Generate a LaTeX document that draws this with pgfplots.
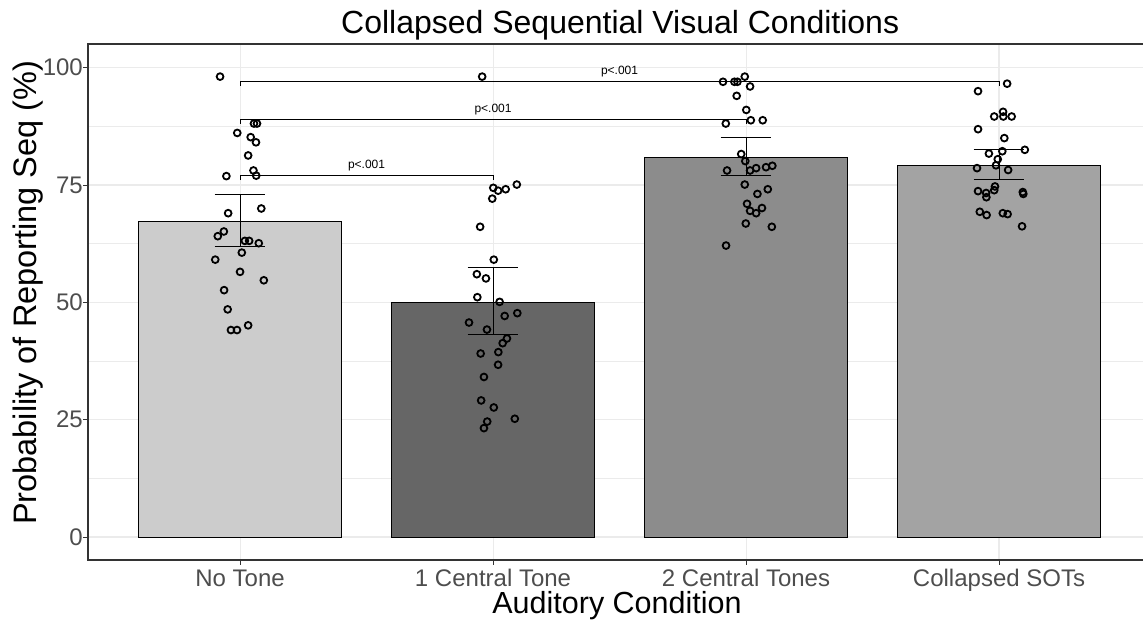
\documentclass[border=0pt]{standalone}
\usepackage{fontspec}
\setmainfont{Liberation Sans}
\usepackage{pgfplots}
\pgfplotsset{compat=1.18}
\definecolor{tickgray}{HTML}{4D4D4D}
\definecolor{gridgray}{HTML}{EBEBEB}
\definecolor{bordergray}{HTML}{333333}
\definecolor{barA}{HTML}{CCCCCC}
\definecolor{barB}{HTML}{666666}
\definecolor{barC}{HTML}{8C8C8C}
\definecolor{barD}{HTML}{A3A3A3}
\begin{document}
\begin{tikzpicture}
\useasboundingbox (0,0) rectangle (1143pt,619pt);
\begin{axis}[
  at={(88pt,59pt)}, anchor=south west,
  scale only axis, width=1058pt, height=516pt,
  xmin=-0.601, xmax=3.581, ymin=-4.9, ymax=105.05,
  xtick={0,1,2,3},
  xticklabels={No Tone, 1 Central Tone, 2 Central Tones, Collapsed SOTs},
  ytick={0,25,50,75,100},
  minor ytick={12.5,37.5,62.5,87.5},
  xmajorgrids, ymajorgrids, yminorgrids,
  major grid style={gridgray, line width=1.07pt},
  minor grid style={gridgray, line width=0.55pt},
  tick align=outside, tick pos=left,
  major tick length=4.5pt, minor tick length=0pt,
  tick style={bordergray, line width=1pt},
  axis line style={bordergray, line width=1.1pt},
  unbounded coords=jump,
  /pgf/number format/assume math mode=true,
  ticklabel style={font=\fontsize{24pt}{26pt}\selectfont, text=tickgray},
  xticklabel style={anchor=base, inner sep=0pt, yshift=-22pt},
  yticklabel style={anchor=east, inner sep=0pt, xshift=-0.5pt},
  title={Collapsed Sequential Visual Conditions},
  title style={at={(axis description cs:0.503,1)}, anchor=base, inner sep=0pt, yshift=4pt,
    font=\fontsize{32pt}{34pt}\selectfont},
  xlabel={Auditory Condition},
  xlabel style={at={([yshift=-53pt]axis description cs:0.5,0)}, anchor=base, inner sep=0pt,
    font=\fontsize{30.5pt}{32pt}\selectfont},
  ylabel={Probability of Reporting Seq (\%)},
  ylabel style={at={([xshift=-51pt]axis description cs:0,0.518)}, anchor=base, inner sep=0pt,
    font=\fontsize{32.5pt}{34pt}\selectfont},
  clip=false,
]
% bars
\addplot[ybar, bar width=0.8, bar shift=0pt, fill=barA, draw=black, line width=0.9pt] coordinates {(0,67.3)};
\addplot[ybar, bar width=0.8, bar shift=0pt, fill=barB, draw=black, line width=0.9pt] coordinates {(1,50.0)};
\addplot[ybar, bar width=0.8, bar shift=0pt, fill=barC, draw=black, line width=0.9pt] coordinates {(2,80.9)};
\addplot[ybar, bar width=0.8, bar shift=0pt, fill=barD, draw=black, line width=0.9pt] coordinates {(3,79.2)};
% error bars (mean +/- SE): stems and caps
\addplot[black, line width=1pt, mark=none] coordinates {
  (0,61.8) (0,73.0) (0,nan) (-0.1,73.0) (0.1,73.0) (0,nan) (-0.1,61.8) (0.1,61.8) (0,nan)
  (1,43.2) (1,57.4) (1,nan) (0.9,57.4) (1.1,57.4) (1,nan) (0.9,43.2) (1.1,43.2) (1,nan)
  (2,77.0) (2,85.1) (2,nan) (1.9,85.1) (2.1,85.1) (2,nan) (1.9,77.0) (2.1,77.0) (2,nan)
  (3,76.2) (3,82.5) (3,nan) (2.9,82.5) (3.1,82.5) (3,nan) (2.9,76.2) (3.1,76.2)
};
% individual points
\addplot[only marks, mark=o, mark size=3.4pt, mark options={black, line width=1.8pt, fill=none}] table {
x y
-0.079 98.1
0.055 88.1
0.067 88.1
-0.011 86.1
0.042 85.2
0.063 84.1
0.032 81.3
0.053 78.1
-0.054 76.9
0.064 77.0
0.084 70.0
-0.047 69.0
-0.064 65.1
-0.088 64.1
0.019 63.1
0.036 63.1
0.074 62.6
0.007 60.6
-0.098 59.1
0.000 56.5
0.094 54.7
-0.063 52.6
-0.049 48.5
0.032 45.1
-0.036 44.1
-0.012 44.1
0.957 98.1
1.094 75.1
1.001 74.4
1.020 73.8
1.050 74.1
0.997 72.1
0.949 66.1
1.003 59.1
0.936 56.0
0.972 55.1
0.938 51.1
1.026 50.1
1.046 47.1
1.096 47.7
0.905 45.7
0.976 44.2
1.055 42.3
1.038 41.3
0.951 39.1
1.021 39.4
1.020 36.7
0.964 34.1
0.953 29.1
1.003 27.6
1.086 25.2
0.977 24.6
0.964 23.2
1.909 97.0
1.954 97.0
1.966 97.0
1.995 98.1
2.016 96.0
1.963 94.0
2.001 91.0
2.019 88.8
2.066 88.8
1.920 88.1
1.981 81.6
1.997 80.1
1.925 78.1
2.016 78.1
2.040 78.6
2.079 78.8
2.104 79.1
1.995 75.1
2.086 74.1
2.045 73.1
2.004 71.0
2.063 70.1
2.016 69.5
2.040 69.0
1.999 66.8
2.102 66.1
1.921 62.1
3.032 96.6
2.917 95.0
3.016 90.6
2.981 89.6
3.017 89.6
3.050 89.6
2.917 86.9
3.021 85.0
3.102 82.5
3.013 82.2
2.960 81.7
2.995 80.5
2.988 79.2
2.913 78.6
3.036 78.2
2.984 74.7
2.981 73.9
2.917 73.7
2.949 73.3
2.950 72.4
3.094 73.5
3.096 73.1
2.924 69.3
2.951 68.6
3.015 69.0
3.034 68.8
3.091 66.2
};
% significance brackets
\addplot[black, line width=1pt, mark=none] coordinates {(0,96.05) (0,97) (3,97) (3,96.05)};
\addplot[black, line width=1pt, mark=none] coordinates {(0,88.05) (0,89) (2,89) (2,88.05)};
\addplot[black, line width=1pt, mark=none] coordinates {(0,76.05) (0,77) (1,77) (1,76.05)};
\node[anchor=base, inner sep=0pt, font=\fontsize{12pt}{13pt}\selectfont] at ([yshift=7pt]axis cs:1.5,97) {p<.001};
\node[anchor=base, inner sep=0pt, font=\fontsize{12pt}{13pt}\selectfont] at ([yshift=7pt]axis cs:1,89) {p<.001};
\node[anchor=base, inner sep=0pt, font=\fontsize{12pt}{13pt}\selectfont] at ([yshift=7pt]axis cs:0.5,77) {p<.001};
\end{axis}
\end{tikzpicture}
\end{document}
